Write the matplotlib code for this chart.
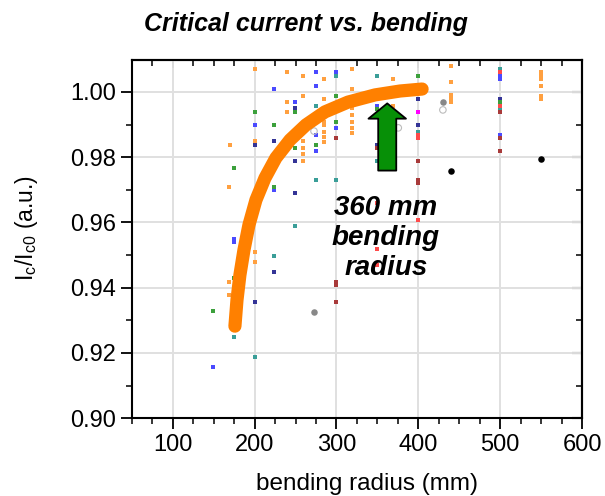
import matplotlib
matplotlib.use("Agg")
import matplotlib.pyplot as plt
from matplotlib.ticker import MultipleLocator, FormatStrFormatter

plt.rcParams['font.family'] = ['Liberation Sans', 'DejaVu Sans']
plt.rcParams['mathtext.fontset'] = 'custom'
plt.rcParams['mathtext.rm'] = 'Liberation Sans'
plt.rcParams['mathtext.it'] = 'Liberation Sans:italic'
plt.rcParams['mathtext.bf'] = 'Liberation Sans:bold'

# ---- data ----
fit_x = [175.9, 178.4, 182.0, 186.9, 193.0, 201.6, 212.6, 226.0, 243.2, 262.7, 285.9, 314.1, 347.1, 377.7, 404.6]
fit_y = [0.9282, 0.9362, 0.9439, 0.9515, 0.9592, 0.9669, 0.9736, 0.9798, 0.9853, 0.9899, 0.9939, 0.9969,
         0.9991, 1.0003, 1.0009]

orange_x = [200, 239, 259, 259, 239, 239, 170, 200, 259, 259, 259, 259, 319, 284.7, 369.5, 319, 284.7,
            369.5, 319, 319, 319, 319, 319, 284.7, 284.7, 284.7, 284.7, 284.7, 440, 440, 440, 440, 440,
            550, 550, 550, 550, 550, 550, 169, 200, 200, 169, 169]
orange_y = [1.007, 1.006, 1.005, 0.9989, 0.9968, 0.9939, 0.9838, 0.9849, 0.9849, 0.9828, 0.9809, 0.9788,
            1.007, 1.004, 1.004, 1.0009, 0.9979, 0.9958, 0.995, 0.9929, 0.9909, 0.989, 0.9873, 0.9909,
            0.9899, 0.9878, 0.9863, 0.9848, 1.008, 1.003, 0.9991, 0.9981, 0.997, 1.006, 1.005, 1.004,
            1.0018, 0.9989, 0.9979, 0.9708, 0.951, 0.948, 0.9418, 0.9377]

blue_x = [224, 249, 200, 274.6, 299.4, 274.6, 350, 299, 274.6, 274.6, 500, 500, 500, 224, 175, 175, 149.5]
blue_y = [1.001, 0.9968, 0.9899, 1.006, 1.006, 1.0018, 0.9958, 0.989, 0.9868, 0.9818, 1.005, 1.004,
          0.9868, 0.970, 0.9549, 0.9539, 0.9157]

navy_x = [249, 200, 224, 249, 400, 400, 350, 500, 224, 200, 249]
navy_y = [0.995, 0.9838, 0.9849, 0.9788, 0.9979, 0.9899, 0.9838, 0.9979, 0.9448, 0.9357, 0.969]

green_x = [249, 200, 224, 249, 175, 299, 350, 299, 274.6, 400, 500, 224, 175, 149.5]
green_y = [0.9939, 0.9939, 0.9899, 0.9828, 0.9768, 0.9989, 0.9948, 0.9909, 0.9838, 1.005, 0.9968,
           0.971, 0.9429, 0.9328]

teal_x = [274.6, 350, 400, 350, 274.6, 299.4, 299.4, 500, 500, 224, 175, 200, 249]
teal_y = [0.9958, 1.005, 0.9878, 0.9788, 0.973, 0.973, 1.005, 1.007, 0.9948, 0.9498, 0.9248, 0.9186, 0.9589]

darkred_x = [299.4, 350, 400, 400, 400, 500, 500, 500, 299.4, 299.4, 299.4]
darkred_y = [0.9859, 0.9828, 0.9788, 0.973, 0.972, 0.9938, 0.9859, 0.9818, 0.9418, 0.9408, 0.9357]

red_x = [400, 400, 350, 400, 350, 350, 500, 500]
red_y = [0.9868, 0.9859, 0.9659, 0.9607, 0.952, 0.9469, 1.006, 0.9958]

magenta_x = [400]
magenta_y = [0.9939]

gray_x = [430, 272.5]
gray_y = [0.9968, 0.9324]

black_x = [440, 550]
black_y = [0.9759, 0.9794]

open_x = [430, 272.5, 375.5]
open_y = [0.9945, 0.988, 0.989]

arrow_x = 362
arrow_y0 = 0.9759
arrow_y1 = 0.9965

xticks = [100, 200, 300, 400, 500, 600]
yticks = [0.90, 0.92, 0.94, 0.96, 0.98, 1.00]

# ---- figure ----
fig = plt.figure(figsize=(6.05, 4.96), dpi=100)
ax = fig.add_axes([0.218, 0.157, 0.744, 0.722])

ax.set_xlim(50, 600)
ax.set_ylim(0.90, 1.0098)

ax.grid(True, which='major', color='#e0e0e0', lw=1.4, zorder=0)
ax.set_axisbelow(True)

ms = 5.5
ax.scatter(orange_x, orange_y, s=ms, marker='s', color='#ffa040', lw=0, zorder=2)
ax.scatter(blue_x, blue_y, s=ms, marker='s', color='#4a4aff', lw=0, zorder=2)
ax.scatter(navy_x, navy_y, s=ms, marker='s', color='#343496', lw=0, zorder=2)
ax.scatter(green_x, green_y, s=ms, marker='s', color='#3ca03c', lw=0, zorder=2)
ax.scatter(teal_x, teal_y, s=ms, marker='s', color='#3a9e98', lw=0, zorder=2)
ax.scatter(darkred_x, darkred_y, s=ms, marker='s', color='#a83a3a', lw=0, zorder=2)
ax.scatter(red_x, red_y, s=ms, marker='s', color='#ff4a4a', lw=0, zorder=2)
ax.scatter(magenta_x, magenta_y, s=ms, marker='s', color='#ff00ff', lw=0, zorder=2)
ax.scatter(gray_x, gray_y, s=22, marker='o', color='#888888', lw=0, zorder=2)
ax.scatter(black_x, black_y, s=22, marker='o', color='#000000', lw=0, zorder=2)
ax.scatter(open_x, open_y, s=22, marker='o', facecolor='none', edgecolor='#bbbbbb', lw=0.8, zorder=2)

ax.plot(fit_x, fit_y, color='#ff8000', lw=9.5, solid_capstyle='round', solid_joinstyle='round', zorder=3)

ax.annotate('', xy=(arrow_x, arrow_y1), xytext=(arrow_x, arrow_y0),
            arrowprops=dict(arrowstyle='simple,head_width=27,head_length=11,tail_width=13',
                            mutation_scale=1, fc='#079007', ec='black', lw=1.3,
                            shrinkA=0, shrinkB=0), zorder=4)

ax.text(360.5, 0.9552, '360 mm\nbending\nradius', ha='center', va='center',
        fontsize=20, fontweight='bold', fontstyle='italic', linespacing=1.2,
        transform=ax.transData, zorder=5)

ax.set_xticks(xticks)
ax.set_yticks(yticks)
ax.yaxis.set_major_formatter(FormatStrFormatter('%.2f'))
ax.xaxis.set_minor_locator(MultipleLocator(25))
ax.yaxis.set_minor_locator(MultipleLocator(0.01))

for s in ax.spines.values():
    s.set_linewidth(1.5)
    s.set_color('black')

ax.tick_params(axis='both', which='major', labelsize=17, width=1.3, length=8, direction='out',
               color='black', top=False, right=False)
ax.tick_params(axis='both', which='minor', width=1.1, length=4, direction='out', top=False, right=False)

# inward ticks on top and right
secx = ax.secondary_xaxis('top')
secx.set_xticks(xticks)
secx.xaxis.set_minor_locator(MultipleLocator(25))
secx.tick_params(which='major', direction='in', length=6, width=1.3, labeltop=False)
secx.tick_params(which='minor', direction='in', length=4, width=1.1)
secx.spines['top'].set_linewidth(1.5)

secy = ax.secondary_yaxis('right')
secy.set_yticks(yticks)
secy.yaxis.set_minor_locator(MultipleLocator(0.01))
secy.tick_params(which='major', direction='in', length=7, width=1.5, labelright=False)
secy.tick_params(which='minor', direction='in', length=4, width=1.1)
secy.spines['right'].set_linewidth(1.5)

ax.set_xlabel('bending radius (mm)', fontsize=17.5)
ax.xaxis.set_label_coords(0.523, -0.152)
ax.set_ylabel(r'I$_\mathrm{c}$/I$_\mathrm{c0}$ (a.u.)', fontsize=16.5)
ax.yaxis.set_label_coords(-0.205, 0.53)

fig.text(0.505, 0.952, 'Critical current vs. bending', ha='center', va='center',
         fontsize=18, fontweight='bold', fontstyle='italic')

fig.savefig('out.png', dpi=100)
